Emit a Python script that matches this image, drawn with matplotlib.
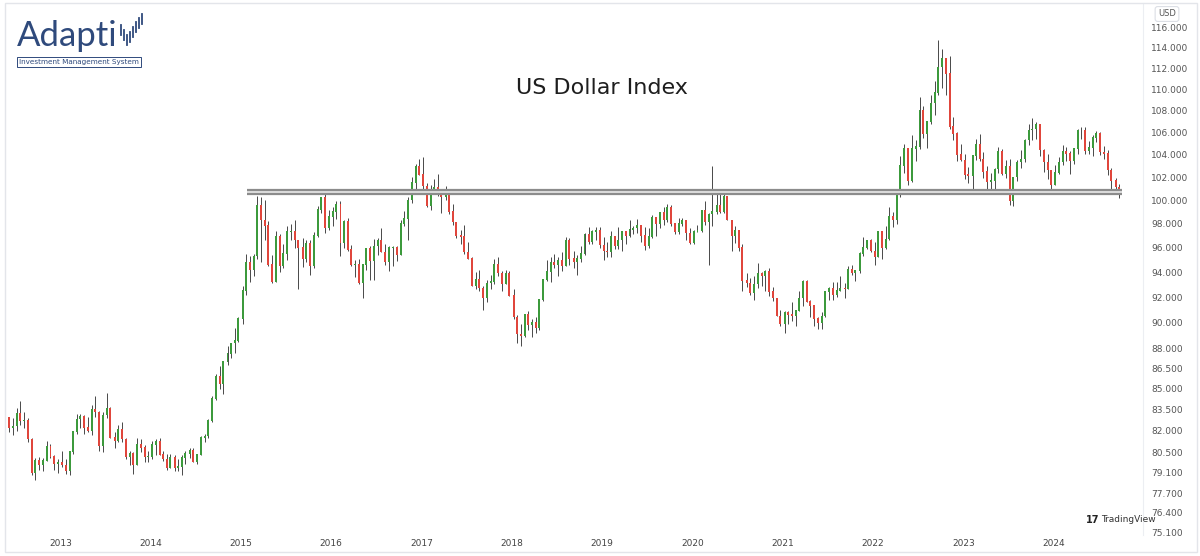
import matplotlib
matplotlib.use("Agg")
import matplotlib.pyplot as plt
import matplotlib.dates as mdates
from matplotlib.ticker import FixedLocator, FormatStrFormatter, NullLocator
from matplotlib.patches import Rectangle
from matplotlib.lines import Line2D
import numpy as np
import pandas as pd

# half-month candles of the US Dollar Index, from the second half of May 2012
first_open = 81.8
closes = [
    82.9, 82.2, 82.3, 83.2, 82.7, 82.7, 81.4, 79.1, 79.9, 79.6, 79.9, 80.9, 80.2, 79.7, 79.8,  # 2012
    79.6, 79.2, 80.5, 81.9, 82.8, 83.0, 82.2, 82.0, 83.5, 83.3, 80.9, 83.1,
    83.6, 81.5, 81.3, 82.1, 81.4, 80.2, 80.4, 79.6, 81.0, 80.8, 80.2, 80.2,  # 2013
    81.0, 81.2, 80.3, 80.0, 79.4, 80.1, 79.4, 79.5, 80.1, 80.4, 80.6, 79.8,
    80.3, 81.5, 81.6, 82.7, 84.3, 85.9, 85.4, 87.0, 87.6, 88.4, 88.6, 90.3,  # 2014
    92.5, 94.8, 94.2, 95.3, 99.5, 98.3, 97.8, 94.6, 93.2, 96.9, 94.5, 95.5,
    97.3, 97.3, 96.6, 96.0, 95.1, 96.3, 94.5, 97.0, 99.2, 100.2, 97.6, 98.6,  # 2015
    99.0, 99.6, 96.4, 98.2, 95.8, 94.6, 94.6, 93.1, 94.6, 95.9, 94.9, 96.1,
    96.6, 95.6, 94.8, 96.0, 96.0, 95.4, 98.0, 98.4, 100.0, 101.5, 102.9, 102.2,  # 2016
    101.2, 99.5, 100.9, 101.1, 100.7, 100.3, 100.5, 99.0, 98.1, 97.0, 96.9, 95.6,
    95.1, 92.9, 93.4, 92.7, 91.9, 93.1, 93.2, 94.6, 93.9, 93.0, 93.9, 92.1,  # 2017
    90.4, 89.1, 89.0, 90.6, 89.8, 90.0, 89.6, 91.8, 93.4, 94.0, 94.8, 94.6,
    94.9, 94.5, 96.6, 95.1, 94.8, 95.1, 95.5, 97.1, 96.5, 97.3, 97.4, 96.2,  # 2018
    95.7, 95.6, 96.9, 96.1, 96.6, 97.3, 97.0, 97.5, 97.6, 97.8, 97.0, 96.1,
    96.9, 98.5, 98.0, 98.9, 98.3, 99.4, 98.0, 97.3, 98.0, 98.3, 97.2, 96.4,  # 2019
    97.3, 97.4, 99.1, 98.1, 98.8, 99.0, 99.5, 99.0, 100.3, 98.3, 97.0, 97.4,
    96.0, 93.3, 93.1, 92.3, 93.0, 93.9, 93.7, 94.0, 92.4, 91.9, 90.5, 89.9,  # 2020
    90.8, 90.6, 90.5, 90.9, 91.9, 93.2, 91.6, 91.3, 90.3, 90.0, 90.5, 92.4,
    92.7, 92.2, 92.5, 92.7, 92.6, 94.2, 93.9, 94.1, 95.5, 96.0, 96.6, 95.7,  # 2021
    95.2, 97.3, 96.0, 96.7, 98.6, 98.3, 100.5, 103.0, 104.5, 101.7, 104.5, 104.7,
    108.0, 105.9, 107.0, 108.7, 109.7, 112.1, 113.0, 111.5, 106.5, 105.9, 104.0, 103.5,  # 2022
    102.2, 102.1, 103.9, 104.9, 103.6, 102.5, 101.6, 101.7, 102.7, 104.3, 102.3, 102.9,
    99.9, 102.0, 103.3, 103.6, 105.3, 106.2, 106.3, 106.7, 104.4, 103.3, 102.6, 101.3,  # 2023
    102.4, 103.3, 104.3, 104.1, 103.4, 104.5, 106.2, 106.2, 104.3, 104.6, 105.5, 105.9,
    104.2, 104.1, 102.6, 101.7, 101.1, 100.8,  # 2024
]
highs = [
    83.2, 83.0, 82.9, 83.6, 84.1, 83.3, 82.9, 81.5, 80.1, 80.2, 80.1, 81.3, 81.1, 80.3, 80.0,
    80.6, 80.0, 80.6, 82.0, 83.2, 83.2, 83.1, 83.0, 83.8, 84.5, 83.4, 83.3,
    84.7, 83.7, 81.9, 82.4, 82.6, 81.5, 80.6, 80.5, 81.5, 81.4, 81.0, 80.6,
    81.3, 81.4, 81.5, 80.6, 80.4, 80.4, 80.3, 80.0, 80.3, 80.6, 80.8, 80.8,
    80.4, 81.6, 81.8, 82.8, 84.5, 86.1, 86.7, 87.1, 88.2, 88.4, 89.6, 90.4,
    92.9, 95.5, 95.3, 95.5, 100.4, 100.3, 100.0, 98.2, 95.4, 97.4, 97.1, 96.3,
    97.8, 98.0, 98.3, 96.6, 96.8, 96.6, 96.6, 97.3, 99.5, 100.3, 100.5, 99.2,
    99.4, 99.9, 99.9, 98.3, 98.5, 96.2, 95.0, 95.1, 94.6, 95.9, 96.1, 96.7,
    96.8, 97.6, 96.3, 96.1, 96.1, 96.1, 98.3, 99.1, 100.3, 102.0, 103.2, 103.6,
    103.8, 101.5, 101.3, 101.8, 102.3, 100.8, 101.2, 100.6, 99.7, 98.1, 97.5, 97.9,
    96.5, 95.2, 94.0, 94.2, 92.9, 93.4, 93.8, 95.1, 95.2, 94.1, 94.2, 94.1,
    92.6, 90.6, 89.9, 90.7, 90.9, 90.3, 90.4, 91.8, 93.4, 95.0, 95.2, 95.5,
    95.2, 95.6, 96.9, 96.8, 95.7, 95.4, 96.1, 97.2, 97.7, 97.5, 97.7, 97.7,
    96.9, 96.5, 97.4, 97.0, 97.7, 97.4, 97.3, 98.3, 97.8, 98.4, 97.8, 97.7,
    97.6, 98.7, 98.4, 99.0, 99.4, 99.7, 99.6, 98.0, 98.5, 98.5, 98.3, 97.6,
    97.5, 97.9, 99.1, 99.9, 98.9, 103.0, 100.9, 100.9, 100.6, 100.4, 98.3, 97.8,
    97.4, 96.3, 93.9, 93.5, 93.7, 94.7, 94.0, 94.2, 94.3, 92.8, 91.9, 91.0,
    90.9, 90.9, 91.6, 91.0, 92.5, 93.4, 93.4, 91.8, 91.4, 90.4, 90.8, 92.4,
    92.8, 93.2, 93.2, 93.7, 93.1, 94.5, 94.6, 94.1, 95.6, 96.9, 96.6, 96.7,
    96.5, 97.4, 97.4, 97.8, 99.4, 99.0, 100.8, 103.9, 105.0, 104.6, 105.8, 105.3,
    109.3, 108.4, 107.0, 109.5, 110.8, 114.8, 113.9, 113.0, 113.2, 107.4, 106.0, 105.0,
    104.1, 102.9, 103.9, 105.4, 105.9, 104.2, 103.0, 102.4, 102.8, 104.7, 104.5, 103.5,
    103.6, 102.0, 103.5, 104.4, 105.4, 106.8, 107.3, 107.0, 106.1, 104.5, 104.1, 102.6,
    103.1, 103.8, 104.9, 104.7, 104.3, 104.6, 106.3, 106.5, 106.5, 105.2, 105.8, 106.1,
    106.0, 104.8, 104.4, 102.8, 101.9, 101.4,
]
lows = [
    81.6, 81.9, 81.7, 82.0, 82.4, 82.2, 81.2, 78.9, 78.6, 79.3, 79.2, 79.9, 80.1, 79.3, 79.1,
    79.5, 79.0, 78.9, 80.4, 81.8, 82.2, 81.8, 81.9, 81.7, 83.0, 80.6, 80.5,
    82.9, 81.5, 80.8, 81.2, 81.2, 80.0, 79.6, 79.0, 79.6, 80.5, 79.8, 79.8,
    80.0, 80.3, 80.3, 79.9, 79.3, 79.4, 79.2, 79.2, 78.9, 79.7, 80.1, 79.8,
    79.7, 80.3, 81.2, 81.5, 82.6, 84.2, 85.0, 84.6, 86.8, 87.3, 87.7, 88.5,
    89.9, 92.2, 93.2, 93.7, 95.1, 94.8, 96.6, 94.5, 93.1, 93.2, 94.0, 94.3,
    95.0, 96.6, 96.0, 92.6, 94.4, 94.8, 93.8, 94.3, 96.9, 98.9, 97.2, 97.5,
    97.8, 98.4, 95.3, 96.0, 95.7, 94.5, 93.6, 93.0, 91.9, 94.2, 93.4, 93.4,
    95.4, 95.6, 94.6, 94.1, 94.5, 94.9, 95.5, 97.8, 96.6, 99.8, 100.5, 102.2,
    100.9, 99.4, 99.2, 100.5, 100.4, 98.9, 100.0, 98.8, 97.9, 96.8, 96.3, 95.5,
    95.1, 92.9, 92.6, 92.5, 91.0, 91.6, 92.6, 93.0, 93.7, 92.5, 93.0, 92.1,
    90.3, 88.4, 88.2, 88.9, 89.4, 88.9, 89.2, 89.4, 91.7, 93.3, 93.2, 94.3,
    93.7, 94.1, 94.5, 94.6, 94.3, 93.8, 94.8, 95.4, 96.3, 96.3, 96.6, 96.0,
    95.0, 95.2, 95.2, 95.9, 95.9, 95.7, 96.3, 96.9, 97.1, 97.2, 96.5, 95.8,
    96.0, 96.8, 97.0, 97.6, 97.9, 98.1, 97.8, 97.1, 97.1, 97.8, 96.6, 96.3,
    96.3, 97.3, 97.3, 97.9, 94.6, 97.8, 98.8, 98.9, 98.9, 98.3, 95.7, 96.4,
    95.7, 92.5, 92.8, 92.2, 91.8, 92.7, 92.9, 92.5, 92.1, 91.7, 90.5, 89.7,
    89.2, 89.9, 90.1, 89.7, 90.9, 91.3, 91.6, 90.4, 89.7, 89.5, 89.5, 90.4,
    91.8, 91.8, 92.0, 92.5, 91.9, 92.6, 93.8, 93.3, 93.9, 95.3, 95.9, 95.6,
    94.6, 95.2, 95.1, 95.9, 96.6, 97.7, 98.0, 100.3, 102.4, 101.3, 101.6, 103.4,
    104.5, 105.5, 104.6, 106.8, 107.6, 109.5, 110.1, 109.5, 106.3, 105.3, 103.4, 103.4,
    101.8, 101.5, 100.8, 103.5, 103.4, 101.9, 100.8, 101.0, 101.0, 102.4, 102.2, 101.9,
    99.6, 99.5, 101.7, 102.8, 103.3, 104.9, 105.3, 105.4, 103.9, 102.5, 101.8, 100.6,
    101.3, 102.3, 103.1, 103.4, 102.3, 103.2, 104.1, 105.4, 104.1, 104.1, 103.9, 105.1,
    104.0, 103.6, 102.2, 100.5, 100.6, 100.2,
]

price_ticks = [75.1, 76.4, 77.7, 79.1, 80.5, 82.0, 83.5, 85.0, 86.5, 88.0, 90.0, 92.0,
               94.0, 96.0, 98.0, 100.0, 102.0, 104.0, 106.0, 108.0, 110.0, 112.0, 114.0, 116.0]
zone_low, zone_high = 100.57, 100.85
zone_start, zone_end = "2015-01-26", "2024-10-05"

W, H = 1200, 556
fig = plt.figure(figsize=(12, 5.56), dpi=100)
fig.patch.set_facecolor("white")
ax = fig.add_axes([5 / W, 1 - 535 / H, (1143 - 5) / W, (535 - 3) / H])

c = np.array(closes)
o = np.array([first_open] + closes[:-1])
hi = np.maximum(np.array(highs), np.maximum(o, c))
lo = np.minimum(np.array(lows), np.minimum(o, c))
dates = pd.date_range("2012-05-15", periods=len(c), freq="SMS") + pd.Timedelta(days=7)
x = mdates.date2num(dates.to_pydatetime())

up = c >= o
col = np.where(up, "#3c9a3c", "#e0463c")
ax.vlines(x, lo, hi, color="#2b2b2b", lw=0.6, zorder=2)
ax.bar(x, np.abs(c - o) + 0.05, bottom=np.minimum(o, c), width=8,
       color=col, edgecolor="none", zorder=3)

# support zone
x0 = mdates.date2num(pd.Timestamp(zone_start))
x1 = mdates.date2num(pd.Timestamp(zone_end))
ax.fill_between([x0, x1], zone_low, zone_high, color="#e4e4e4", zorder=4, lw=0)
ax.hlines([zone_low, zone_high], x0, x1, color="#8c8c8c", lw=1.6, zorder=5)

ax.set_yscale("log")
ax.set_ylim(74.96, 118.5)
ax.set_xlim(mdates.date2num(pd.Timestamp("2012-05-22")),
            mdates.date2num(pd.Timestamp("2024-12-28")))

ax.yaxis.tick_right()
ax.yaxis.set_major_locator(FixedLocator(price_ticks))
ax.yaxis.set_major_formatter(FormatStrFormatter("%.3f"))
ax.yaxis.set_minor_locator(NullLocator())
ax.tick_params(axis="y", length=0, pad=6, labelsize=6.5, labelcolor="#555555")

ax.xaxis.set_major_locator(mdates.YearLocator())
ax.xaxis.set_major_formatter(mdates.DateFormatter("%Y"))
ax.tick_params(axis="x", length=0, pad=3, labelsize=6.5, labelcolor="#444444")

for s in ["top", "left", "bottom"]:
    ax.spines[s].set_visible(False)
ax.spines["right"].set_color("#eceef2")
ax.spines["right"].set_linewidth(0.8)

def fx(px):
    return px / W

def fy(py):
    return 1 - py / H

# outer frame
fig.add_artist(Rectangle((fx(5), fy(552)), fx(1192), 549 / H, transform=fig.transFigure,
                         fill=False, edgecolor="#e3e5ea", lw=1))

fig.text(fx(602), fy(88), "US Dollar Index", fontsize=16, color="#1e1e1e",
         ha="center", va="center")

# logo
navy = "#2f4a7c"
fig.text(fx(17), fy(46), "Adapti", fontsize=25, color=navy, family="Lato",
         ha="left", va="baseline")
bar_x = [121, 124, 127, 130, 133, 136, 139, 142]
bar_mid = [30, 35, 40, 37, 32, 27, 23, 19]
for bx, bm in zip(bar_x, bar_mid):
    fig.add_artist(Line2D([fx(bx), fx(bx)], [fy(bm + 5), fy(bm - 5)], color=navy, lw=1.3,
                          transform=fig.transFigure))
fig.text(fx(79), fy(62), "Investment Management System", fontsize=5.2, color=navy,
         ha="center", va="center",
         bbox=dict(boxstyle="square,pad=0.3", fc="white", ec=navy, lw=0.7))

# price scale currency box
fig.text(fx(1167), fy(14), "USD", fontsize=6, color="#555555", ha="center", va="center",
         zorder=10,
         bbox=dict(boxstyle="round,pad=0.35,rounding_size=0.3", fc="white", ec="#dcdfe5", lw=0.8))

# watermark
fig.text(fx(1099), fy(520), "17", fontsize=7, fontweight="bold", color="#222222",
         ha="right", va="center")
fig.text(fx(1101), fy(520), "TradingView", fontsize=6.5, color="#333333",
         ha="left", va="center")

fig.savefig("out.png", dpi=100, facecolor="white")
